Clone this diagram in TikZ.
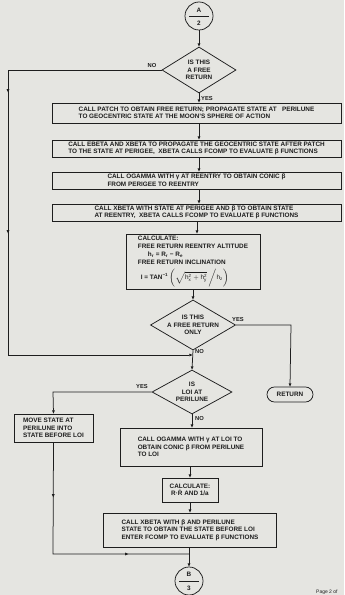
\documentclass[tikz,border=0pt]{standalone}
\usepackage{fontspec}
\setmainfont{Liberation Sans}
\usetikzlibrary{shapes.geometric,arrows.meta,decorations.markings}
\definecolor{paper}{RGB}{229,229,225}
\definecolor{ink}{RGB}{30,30,30}
\begin{document}
\begin{tikzpicture}[x=1bp,y=-1bp,
  every node/.style={font=\fontsize{6.4}{7.6}\selectfont\bfseries, text=ink},
  box/.style={draw=ink, line width=0.75bp, rectangle, inner sep=0pt, align=left},
  dec/.style={draw=ink, line width=0.75bp, diamond, aspect=1.7, inner sep=0pt, align=center},
  conn/.style={draw=ink, line width=0.75bp, circle, minimum size=28bp, inner sep=0pt},
  line/.style={draw=ink, line width=0.75bp},
  arr/.style={line, -{Triangle[length=3.2bp,width=2.6bp]}},
  lab/.style={font=\fontsize{5.8}{6.5}\selectfont\bfseries, inner sep=0pt},
  midarr/.style={postaction={decorate, decoration={markings,
      mark=at position #1 with {\arrow{Triangle[length=3.2bp,width=2.6bp]}}}}},
]
\useasboundingbox (0,0) rectangle (344,595);
\fill[paper] (0,0) rectangle (344,595);

% connector A
\node[conn] (A) at (199,16) {};
\node[inner sep=0pt] (Alet) at (199,10) {A};
\node[inner sep=0pt] (Anum) at (199,23) {2};
\draw[line] ([xshift=-10bp]A.center) -- ([xshift=10bp]A.center);

% decision 1
\node[dec, minimum width=74bp, minimum height=46bp] (D1) at (199,70) {IS THIS\\A FREE\\RETURN};

% boxes
\node[box, minimum width=289bp, minimum height=20bp] (b1) at (196.5,113)
  {CALL PATCH TO OBTAIN FREE RETURN; PROPAGATE STATE AT \ \ PERILUNE\\TO GEOCENTRIC STATE AT THE MOON'S SPHERE OF ACTION};
\node[box, minimum width=289bp, minimum height=17bp] (b2) at (196.5,148.5)
  {CALL EBETA AND XBETA TO PROPAGATE THE GEOCENTRIC STATE AFTER PATCH\\TO THE STATE AT PERIGEE, \ XBETA CALLS FCOMP TO EVALUATE β FUNCTIONS};
\node[box, minimum width=289bp, minimum height=17bp] (b3) at (196.5,180.5)
  {CALL OGAMMA WITH γ AT REENTRY TO OBTAIN CONIC β\\FROM PERIGEE TO REENTRY};
\node[box, minimum width=289bp, minimum height=17bp] (b4) at (196.5,212.5)
  {CALL XBETA WITH STATE AT PERIGEE AND β TO OBTAIN STATE\\AT REENTRY, \ XBETA CALLS FCOMP TO EVALUATE β FUNCTIONS};
\node[box, minimum width=134bp, minimum height=55bp] (b5) at (193,261.5)
  {CALCULATE:\\FREE RETURN REENTRY ALTITUDE\\[0.5bp]
   \hspace*{10bp}h\textsubscript{r} = R\textsubscript{r} − R\textsubscript{e}\\[1bp]
   FREE RETURN INCLINATION\\[3bp]
   \hspace*{3bp}I = TAN\textsuperscript{−1}\,$\bigl(\sqrt{\mathrm{h_x^2+h_y^2}}\,\big/\mathrm{h_z}\bigr)$};

% decision 2
\node[dec, minimum width=80bp, minimum height=46bp] (D2) at (193,325) {IS THIS\\A FREE RETURN\\ONLY};
\node[box, rounded corners=7.5bp, minimum width=46bp, minimum height=15bp, align=center] (ret) at (290,394.5) {RETURN};

% decision 3
\node[dec, minimum width=80bp, minimum height=44bp] (D3) at (192,392) {IS\\LOI AT\\PERILUNE};

\node[box, minimum width=79bp, minimum height=28bp] (b6) at (53.5,428)
  {MOVE STATE AT\\PERILUNE INTO\\STATE BEFORE LOI};
\node[box, minimum width=142bp, minimum height=38bp] (b7) at (191,447)
  {CALL OGAMMA WITH γ AT LOI TO\\OBTAIN CONIC β FROM PERILUNE\\TO LOI};
\node[box, minimum width=56bp, minimum height=24bp, align=center] (c2) at (190,490)
  {CALCULATE:\\R·Ṙ AND 1/a};
\node[box, minimum width=173bp, minimum height=34bp] (b8) at (190,530)
  {CALL XBETA WITH β AND PERILUNE\\STATE TO OBTAIN THE STATE BEFORE LOI\\ENTER FCOMP TO EVALUATE β FUNCTIONS};

% connector B
\node[conn] (B) at (189,581) {};
\node[inner sep=0pt] (Blet) at (189,574) {B};
\node[inner sep=0pt] (Bnum) at (189,588) {3};
\draw[line] ([xshift=-10bp]B.center) -- ([xshift=10bp]B.center);

% coordinates
\coordinate (n1) at (8,70);
\coordinate (n2) at (8,355);
\coordinate (lp) at (192.5,355);
\coordinate (y2) at (291,325);
\coordinate (y3) at (53,392);
\coordinate (j1) at (53,554);
\coordinate (J) at (189,554);

% connectors
\draw[arr] (A) -- (D1);
\draw[arr] (D1.south) -- (D1.south |- b1.north);
\draw[arr] (b1.south -| D1) -- (b2.north -| D1);
\draw[arr] (b2.south -| D1) -- (b3.north -| D1);
\draw[arr] (b3.south -| D1) -- (b4.north -| D1);
\draw[arr] (b4.south -| 197,0) -- (b5.north -| 197,0);
\draw[arr] (b5.south -| D2) -- (D2.north);
\draw[arr, midarr=176bp, midarr=317bp] (D1.west) -- (n1) -- (n2) -- (lp);
\draw[arr] (D2.south) -- (D3.north);
\draw[arr] (D2.east) -- (y2) -- (ret.north);
\draw[arr] (D3.west) -- (y3) -- (b6.north);
\draw[arr] (D3.south) -- (D3.south |- b7.north);
\draw[arr] (b7.south -| c2) -- (c2.north);
\draw[arr] (c2.south) -- (c2.south |- b8.north);
\draw[line] (b8.south -| J) -- (J);
\draw[line, midarr=55bp, midarr=187bp] (b6.south) -- (j1) -- (J);
\draw[arr] (J) -- (B.north);

% labels
\node[lab] (no1) at (152,66) {NO};
\node[lab, anchor=west] (yes1) at (201,99) {YES};
\node[lab] (yes2) at (238,320) {YES};
\node[lab, anchor=west] (no2) at (195,352) {NO};
\node[lab] (yes3) at (142,387) {YES};
\node[lab, anchor=west] (no3) at (195,419) {NO};
\node[lab, anchor=west, font=\fontsize{5}{6}\selectfont] (page) at (316,592) {Page 2 of};
\end{tikzpicture}
\end{document}
